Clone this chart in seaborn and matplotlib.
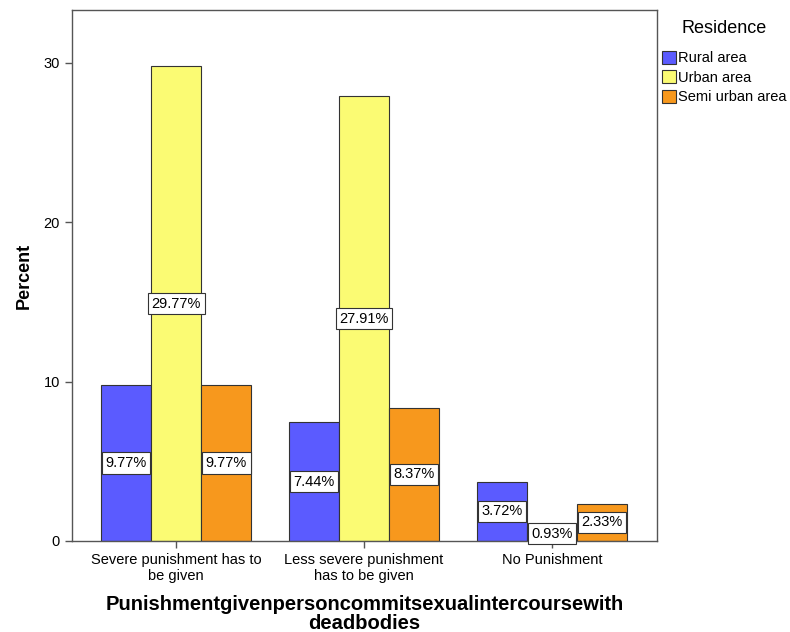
import pandas as pd
import seaborn as sns
import matplotlib.pyplot as plt

# Values
categories = ["Severe punishment has to\nbe given", "Less severe punishment\nhas to be given", "No Punishment"]
residence = ["Rural area", "Urban area", "Semi urban area"]
rural = [9.77, 7.44, 3.72]
urban = [29.77, 27.91, 0.93]
semi_urban = [9.77, 8.37, 2.33]

df = pd.DataFrame({
    "Category": categories * 3,
    "Residence": [r for r in residence for _ in categories],
    "Percent": rural + urban + semi_urban,
})

palette = {"Rural area": "#5b5bff", "Urban area": "#fbfb73", "Semi urban area": "#f7981d"}

sns.set_style("white")
plt.rcParams["font.family"] = ["Liberation Sans", "DejaVu Sans"]
plt.rcParams["text.color"] = "black"
plt.rcParams["axes.labelcolor"] = "black"
plt.rcParams["xtick.color"] = "black"
plt.rcParams["ytick.color"] = "black"

fig = plt.figure(figsize=(7.9, 6.32), dpi=100)
ax = fig.add_axes([0.091, 0.144, 0.741, 0.840])

sns.barplot(data=df, x="Category", y="Percent", hue="Residence", order=categories,
            hue_order=residence, palette=palette, width=0.8, saturation=1,
            edgecolor="#333333", linewidth=0.8, ax=ax)

# Value labels in white boxes at mid-height
for container in ax.containers:
    for bar in container:
        h = bar.get_height()
        ax.text(bar.get_x() + bar.get_width() / 2, h / 2, f"{h:.2f}%",
                ha="center", va="center", fontsize=10.5,
                bbox=dict(boxstyle="square,pad=0.25", facecolor="white",
                          edgecolor="#333333", linewidth=0.8))

ax.set_xlim(-0.555, 2.56)
ax.set_ylim(0, 33.3)
ax.set_yticks([0, 10, 20, 30])
ax.tick_params(axis="both", direction="out", length=5, width=1, color="#555555",
               labelsize=10.5, bottom=True, left=True)
for s in ax.spines.values():
    s.set_color("#555555")
    s.set_linewidth(1)

ax.set_ylabel("Percent", fontsize=13, fontweight="bold", labelpad=8)
ax.set_xlabel("Punishmentgivenpersoncommitsexualintercoursewith\ndeadbodies",
              fontsize=14.5, fontweight="bold", labelpad=9, linespacing=0.95)

leg = ax.legend(title="Residence", loc="upper left", bbox_to_anchor=(1.0, 0.99),
                frameon=False, fontsize=10.5, title_fontsize=13,
                handlelength=1.0, handleheight=1.0, handletextpad=0.1,
                labelspacing=0.35, borderaxespad=0.0, borderpad=0.3)
leg._legend_box.sep = 10

fig.savefig("out.png", dpi=100)
